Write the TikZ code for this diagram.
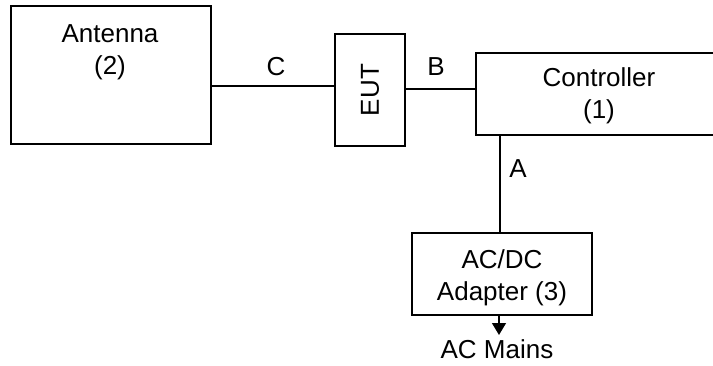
\documentclass[tikz,border=0pt]{standalone}
\usepackage{fontspec}
\setmainfont{Liberation Sans}
\usetikzlibrary{arrows.meta}
\begin{document}
\begin{tikzpicture}[x=1pt,y=-1pt,
  box/.style={draw,line width=1.3pt,rectangle,inner sep=0pt},
  txt/.style={font=\fontsize{26}{32}\selectfont,align=center,inner sep=0pt},
  wire/.style={line width=1.3pt}]
\useasboundingbox (0,0) rectangle (713,365);
\clip (0,0) rectangle (713,365);
% boxes
\node[box,minimum width=200pt,minimum height=138pt] (ant) at (111,75) {};
\node[box,minimum width=70pt,minimum height=112pt] (eut) at (370,90) {};
\node[box,minimum width=246pt,minimum height=82pt] (ctrl) at (599,94) {};
\node[box,minimum width=180pt,minimum height=82pt] (adp) at (502,274) {};
% texts
\node[txt] (antl) at (110,52) {Antenna\\(2)};
\node[txt,rotate=90] (eutl) at (eut.center) {EUT};
\node[txt] (ctrll) at (599,96) {Controller\\(1)};
\node[txt] (adpl) at (502,278) {AC/DC\\Adapter (3)};
\node[txt] (mains) at (497,349) {AC Mains};
\node[txt] (lc) at (276,67) {C};
\node[txt] (lb) at (436,67) {B};
\node[txt] (la) at (518,169) {A};
\coordinate (tip) at (499,335);
% connectors
\draw[wire] ([yshift=-11pt]ant.east) -- ([yshift=-11pt]ant.east -| eut.west);
\draw[wire] ([yshift=1pt]eut.east) -- ([yshift=1pt]eut.east -| ctrl.west);
\draw[wire] ([xshift=-2pt]adp.north) -- ([xshift=-2pt]adp.north |- ctrl.south);
\draw[wire,-{Triangle[width=14pt,length=12pt]}] (adp.south -| tip) -- (tip);
\end{tikzpicture}
\end{document}
